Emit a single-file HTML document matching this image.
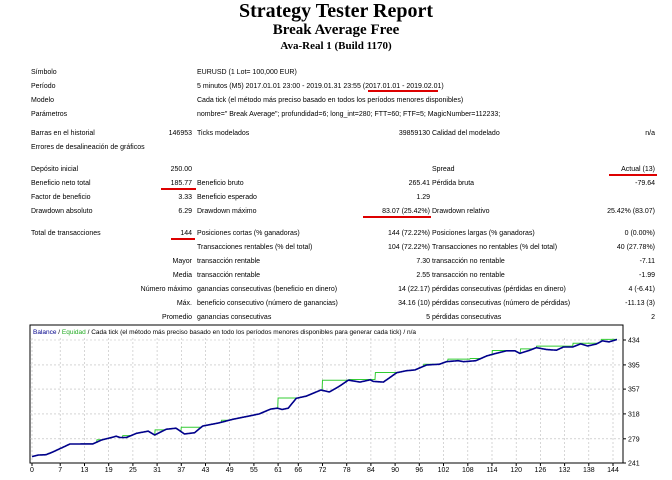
<!DOCTYPE html><html><head><meta charset="utf-8"><style>
body{margin:0;width:672px;height:480px;background:#fff;position:relative;overflow:hidden;font-family:"Liberation Sans",sans-serif;color:#000}
.t{position:absolute;left:0;width:672px;text-align:center;font-family:"Liberation Serif",serif;font-weight:bold}
.s{position:absolute;font-size:7px;white-space:nowrap;line-height:8px}
.r{text-align:right}
.u{position:absolute;height:2px;background:#d00}
</style></head><body>
<div class="t" style="top:0;font-size:20px">Strategy Tester Report</div>
<div class="t" style="top:22px;font-size:15px">Break Average Free</div>
<div class="t" style="top:40px;font-size:11px">Ava-Real 1 (Build 1170)</div>
<div id="tb"></div>
<svg id="ch" width="672" height="480" style="position:absolute;left:0;top:0"></svg>
<script>
var rows=[
[69,"Símbolo","","EURUSD (1 Lot= 100,000 EUR)","","",""],
[83,"Período","","5 minutos (M5) 2017.01.01 23:00 - 2019.01.31 23:55 (2017.01.01 - 2019.02.01)","","",""],
[97,"Modelo","","Cada tick (el método más preciso basado en todos los períodos menores disponibles)","","",""],
[111,"Parámetros","","nombre=\" Break Average\"; profundidad=6; long_int=280; FTT=60; FTF=5; MagicNumber=112233;","","",""],
[130,"Barras en el historial","146953","Ticks modelados","39859130","Calidad del modelado","n/a"],
[144,"Errores de desalineación de gráficos","","","","",""],
[166,"Depósito inicial","250.00","","","Spread","Actual (13)"],
[180,"Beneficio neto total","185.77","Beneficio bruto","265.41","Pérdida bruta","-79.64"],
[194,"Factor de beneficio","3.33","Beneficio esperado","1.29","",""],
[208,"Drawdown absoluto","6.29","Drawdown máximo","83.07 (25.42%)","Drawdown relativo","25.42% (83.07)"],
[230,"Total de transacciones","144","Posiciones cortas (% ganadoras)","144 (72.22%)","Posiciones largas (% ganadoras)","0 (0.00%)"],
[244,"","","Transacciones rentables (% del total)","104 (72.22%)","Transacciones no rentables (% del total)","40 (27.78%)"],
[258,"","Mayor","transacción rentable","7.30","transacción no rentable","-7.11"],
[272,"","Media","transacción rentable","2.55","transacción no rentable","-1.99"],
[286,"","Número máximo","ganancias consecutivas (beneficio en dinero)","14 (22.17)","pérdidas consecutivas (pérdidas en dinero)","4 (-6.41)"],
[300,"","Máx.","beneficio consecutivo (número de ganancias)","34.16 (10)","pérdidas consecutivas (número de pérdidas)","-11.13 (3)"],
[314,"","Promedio","ganancias consecutivas","5","pérdidas consecutivas","2"]];
var h="";
rows.forEach(function(r){var y=r[0];
if(r[1])h+='<div class="s" style="left:31px;top:'+y+'px">'+r[1]+'</div>';
if(r[2])h+='<div class="s r" style="right:480px;top:'+y+'px">'+r[2]+'</div>';
if(r[3])h+='<div class="s" style="left:197px;top:'+y+'px">'+r[3]+'</div>';
if(r[4])h+='<div class="s r" style="right:242px;top:'+y+'px">'+r[4]+'</div>';
if(r[5])h+='<div class="s" style="left:432px;top:'+y+'px">'+r[5]+'</div>';
if(r[6])h+='<div class="s r" style="right:17px;top:'+y+'px">'+r[6]+'</div>';});
h+='<div class="u" style="left:368px;top:90px;width:70px"></div>';
h+='<div class="u" style="left:161px;top:188px;width:35px"></div>';
h+='<div class="u" style="left:609px;top:174px;width:48px"></div>';
h+='<div class="u" style="left:363px;top:216px;width:68px"></div>';
h+='<div class="u" style="left:171px;top:238px;width:24px"></div>';
document.getElementById('tb').innerHTML=h;
var L=30,R=623,T=325,B=463,x0=32,xs=581/144;
function X(i){return x0+i*xs}function Y(v){return 463-(v-241)*123/193}
var s='<rect x="'+L+'" y="'+T+'" width="'+(R-L)+'" height="'+(B-T)+'" fill="#fff" stroke="#000" stroke-width="1"/>';
var xl=[0,7,13,19,25,31,37,43,49,55,61,66,72,78,84,90,96,102,108,114,120,126,132,138,144];
xl.forEach(function(i){var x=X(i).toFixed(1);s+='<line x1="'+x+'" y1="'+(T+13)+'" x2="'+x+'" y2="'+B+'" stroke="#bbb" stroke-dasharray="2,2" stroke-width=".6"/><line x1="'+x+'" y1="'+B+'" x2="'+x+'" y2="'+(B+3)+'" stroke="#000"/><text x="'+x+'" y="472" font-size="7" text-anchor="middle">'+i+'</text>';});
[434,395,357,318,279,241].forEach(function(v){var y=Y(v).toFixed(1);if(v>241)s+='<line x1="'+L+'" y1="'+y+'" x2="'+R+'" y2="'+y+'" stroke="#bbb" stroke-dasharray="2,2" stroke-width=".6"/>';s+='<line x1="'+R+'" y1="'+y+'" x2="'+(R+3)+'" y2="'+y+'" stroke="#000"/><text x="'+(R+5)+'" y="'+(+y+2.5)+'" font-size="7">'+v+'</text>';});
s+='<text x="33" y="334" font-size="6.5"><tspan fill="#00008b">Balance</tspan> / <tspan fill="#2a2">Equidad</tspan> / Cada tick (el método más preciso basado en todo los períodos menores disponibles para generar cada tick)  / n/a</text>';
var d=[[0,251],[1.6,253.5],[3.5,254],[5.3,258.7],[9.4,270.8],[15.1,271],[17.2,277],[20.9,283],[21.8,281],[23.4,281],[25.9,287.6],[28.8,291],[30.4,285],[33.3,294],[35.7,295.6],[37.8,286.5],[40.3,288.5],[42.3,299],[46.4,304],[49.7,309.5],[53.8,314.7],[56.3,318],[59.2,325.7],[60.8,327],[62,325],[63.5,327],[65.5,342.5],[68,346],[71.6,355.5],[73.7,352.5],[76,360.7],[78.4,371],[81.3,368],[83.8,371.5],[84.6,369],[87.1,368],[90.4,382.7],[92.8,385.8],[94.9,387],[97.8,394.8],[101,396],[102.7,400],[105.6,401.5],[107,400],[110,401.5],[112.7,409],[115,413],[117.6,417],[119.7,417],[120.9,413],[123.4,418],[125,422],[127.6,419],[130,418],[131.7,423],[134,423],[136,428],[137.7,424.6],[139.8,427.6],[141.4,432.7],[143,431],[145,434.8]];
function bv(x){for(var k=1;k<d.length;k++){if(x<=d[k][0]){var a=d[k-1],b=d[k];return a[1]+(b[1]-a[1])*(x-a[0])/(b[0]-a[0]);}}return d[d.length-1][1];}
var pl=[[4,7,256],[16,19,277.5],[22.5,26,284],[30.5,35,293],[37,42.5,297],[47,53,308],[61,66,343],[72,78.5,371],[78.5,85,372],[85,97,383],[97,101,396],[103,108.5,404],[108.5,112.5,405],[114,119.5,417.5],[121,125,420],[125,134,424.5],[134,141,429],[141,145,435]];
function gv(x){var m=bv(x);pl.forEach(function(p){if(x>=p[0]&&x<p[1]&&p[2]>m)m=p[2];});return m;}
var g="",b="";
for(var x=0;x<=145.001;x+=0.1){var px=X(x).toFixed(1);g+=(x?'L':'M')+px+' '+Y(gv(x)).toFixed(1);b+=(x?'L':'M')+px+' '+Y(bv(x)).toFixed(1);}
s+='<path d="'+g+'" fill="none" stroke="#3c3" stroke-width="1"/><path d="'+b+'" fill="none" stroke="#00008b" stroke-width="1.6" stroke-linejoin="round"/>';
document.getElementById('ch').innerHTML=s;
</script></body></html>
